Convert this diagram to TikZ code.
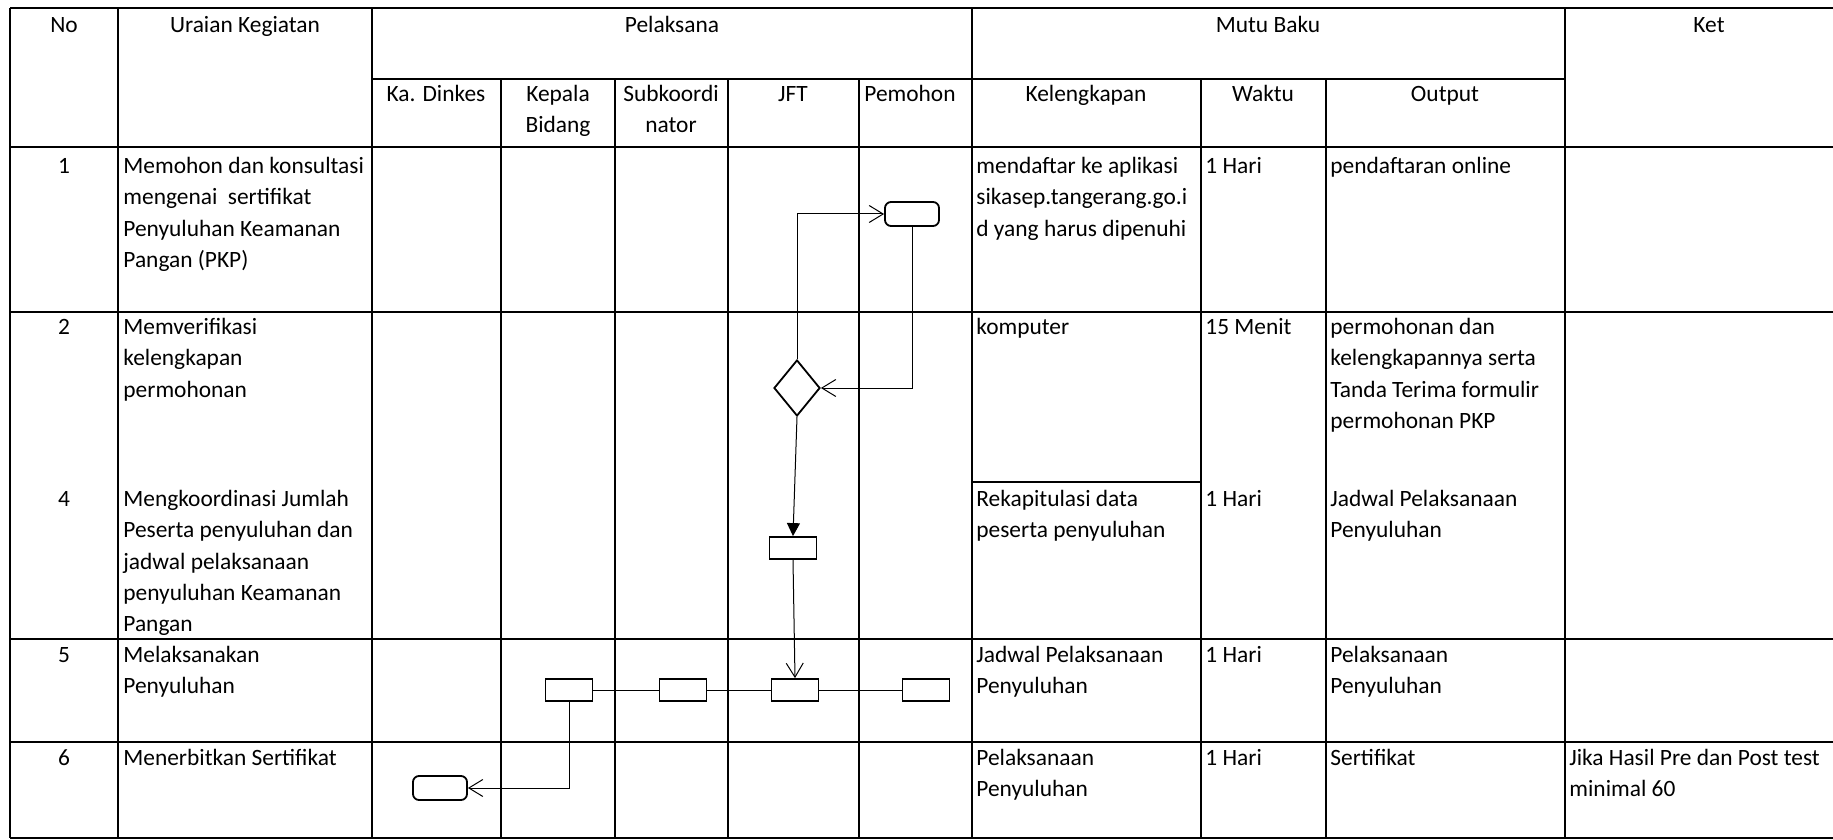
\documentclass[tikz,border=0pt]{standalone}
\usepackage{fontspec}
\setmainfont{Carlito}
\usetikzlibrary{arrows.meta,shapes.geometric}
\begin{document}
\begin{tikzpicture}[x=0.5pt,y=-0.5pt,
	every node/.style={font=\fontsize{11.7}{15.7}\selectfont},
	isi/.style={anchor=north west,align=left,inner sep=0pt},
	judul/.style={anchor=north,align=center,inner sep=0pt},
	garis/.style={line width=1.2pt},
	kotak/.style={draw,line width=0.9pt,minimum width=23.5pt,minimum height=11pt,inner sep=0pt},
	mulai/.style={kotak,rounded corners=3pt,minimum width=27pt,minimum height=12pt},
	putusan/.style={draw,diamond,line width=0.9pt,minimum width=23pt,minimum height=28pt,inner sep=0pt},
	hubung/.style={line width=0.5pt},
	alur/.style={hubung,-{Straight Barb[length=7pt,width=8.5pt]}},
	alurpenuh/.style={hubung,-{Triangle[length=6.5pt,width=6.5pt]}}]
				\useasboundingbox (0,0) rectangle (1833,840);
				% garis tabel
				\draw[garis] (10,8) -- (1833,8);
				\draw[garis] (372,79) -- (1565,79);
				\draw[garis] (10,147) -- (1833,147);
				\draw[garis] (10,312) -- (1833,312);
				\draw[garis] (972,482) -- (1201,482);
				\draw[garis] (10,639) -- (1833,639);
				\draw[garis] (10,742) -- (1833,742);
				\draw[garis] (10,838) -- (1833,838);
				\foreach \x in {10,118,372,972,1565}
					\draw[garis] (\x,8) -- (\x,838);
				\foreach \x in {501,615,728,859,1201,1326}
					\draw[garis] (\x,79) -- (\x,838);
				% kepala tabel
				\node[judul] (hno) at (64,10) {\strut No};
				\node[judul] (hur) at (245,10) {\strut Uraian Kegiatan};
				\node[judul] (hpl) at (672,10) {\strut Pelaksana};
				\node[judul] (hmb) at (1268,10) {\strut Mutu Baku};
				\node[judul] (hket) at (1709,10) {\strut Ket};
				\node[judul] (hkd) at (436,79) {\strut Ka. Dinkes};
				\node[judul] (hkb) at (558,79) {\strut Kepala\\Bidang};
				\node[judul] (hsk) at (671,79) {\strut Subkoordi\\nator};
				\node[judul] (hjft) at (793,79) {\strut JFT};
				\node[judul] (hpm) at (910,79) {\strut Pemohon};
				\node[judul] (hkel) at (1086,79) {\strut Kelengkapan};
				\node[judul] (hwk) at (1263,79) {\strut Waktu};
				\node[judul] (hout) at (1445,79) {\strut Output};
				% baris 1
				\node[judul] (no1) at (64,151) {\strut 1};
				\node[isi] (ur1) at (123,151) {\strut Memohon dan konsultasi\\mengenai\ \ sertifikat\\Penyuluhan Keamanan\\Pangan (PKP)};
				\node[isi] (kel1) at (976,151) {\strut mendaftar ke aplikasi\\sikasep.tangerang.go.i\\d yang harus dipenuhi};
				\node[isi] (wk1) at (1205,151) {\strut 1 Hari};
				\node[isi] (out1) at (1330,151) {\strut pendaftaran online};
				% baris 2
				\node[judul] (no2) at (64,312) {\strut 2};
				\node[isi] (ur2) at (123,312) {\strut Memverifikasi\\kelengkapan\\permohonan};
				\node[isi] (kel2) at (976,312) {\strut komputer};
				\node[isi] (wk2) at (1205,312) {\strut 15 Menit};
				\node[isi] (out2) at (1330,312) {\strut permohonan dan\\kelengkapannya serta\\Tanda Terima formulir\\permohonan PKP};
				% baris 4
				\node[judul] (no4) at (64,484) {\strut 4};
				\node[isi] (ur4) at (123,484) {\strut Mengkoordinasi Jumlah\\Peserta penyuluhan dan\\jadwal pelaksanaan\\penyuluhan Keamanan\\Pangan};
				\node[isi] (kel4) at (976,484) {\strut Rekapitulasi data\\peserta penyuluhan};
				\node[isi] (wk4) at (1205,484) {\strut 1 Hari};
				\node[isi] (out4) at (1330,484) {\strut Jadwal Pelaksanaan\\Penyuluhan};
				% baris 5
				\node[judul] (no5) at (64,640) {\strut 5};
				\node[isi] (ur5) at (123,640) {\strut Melaksanakan\\Penyuluhan};
				\node[isi] (kel5) at (976,640) {\strut Jadwal Pelaksanaan\\Penyuluhan};
				\node[isi] (wk5) at (1205,640) {\strut 1 Hari};
				\node[isi] (out5) at (1330,640) {\strut Pelaksanaan\\Penyuluhan};
				% baris 6
				\node[judul] (no6) at (64,743) {\strut 6};
				\node[isi] (ur6) at (123,743) {\strut Menerbitkan Sertifikat};
				\node[isi] (kel6) at (976,743) {\strut Pelaksanaan\\Penyuluhan};
				\node[isi] (wk6) at (1205,743) {\strut 1 Hari};
				\node[isi] (out6) at (1330,743) {\strut Sertifikat};
				\node[isi] (ket6) at (1569,743) {\strut Jika Hasil Pre dan Post test\\minimal 60};
				% bagan alir
				\node[mulai] (mulai) at (912,214) {};
				\node[putusan] (cek) at (797,388) {};
				\node[kotak] (rekap) at (793,548) {};
				\node[kotak] (kb5) at (569,690) {};
				\node[kotak] (sk5) at (683,690) {};
				\node[kotak] (jft5) at (795,690) {};
				\node[kotak] (pm5) at (926,690) {};
				\node[mulai] (selesai) at (440,788) {};
				\draw[alur] (cek.north) |- (mulai.west);
				\draw[alur] (mulai.south) |- (cek.east);
				\draw[alurpenuh] (cek.south) -- (rekap.north);
				\draw[alur] (rekap.south) -- (jft5.north);
				\draw[hubung] (kb5) -- (sk5) -- (jft5) -- (pm5);
				\draw[alur] (kb5.south) |- (selesai.east);
			\end{tikzpicture}
\end{document}
